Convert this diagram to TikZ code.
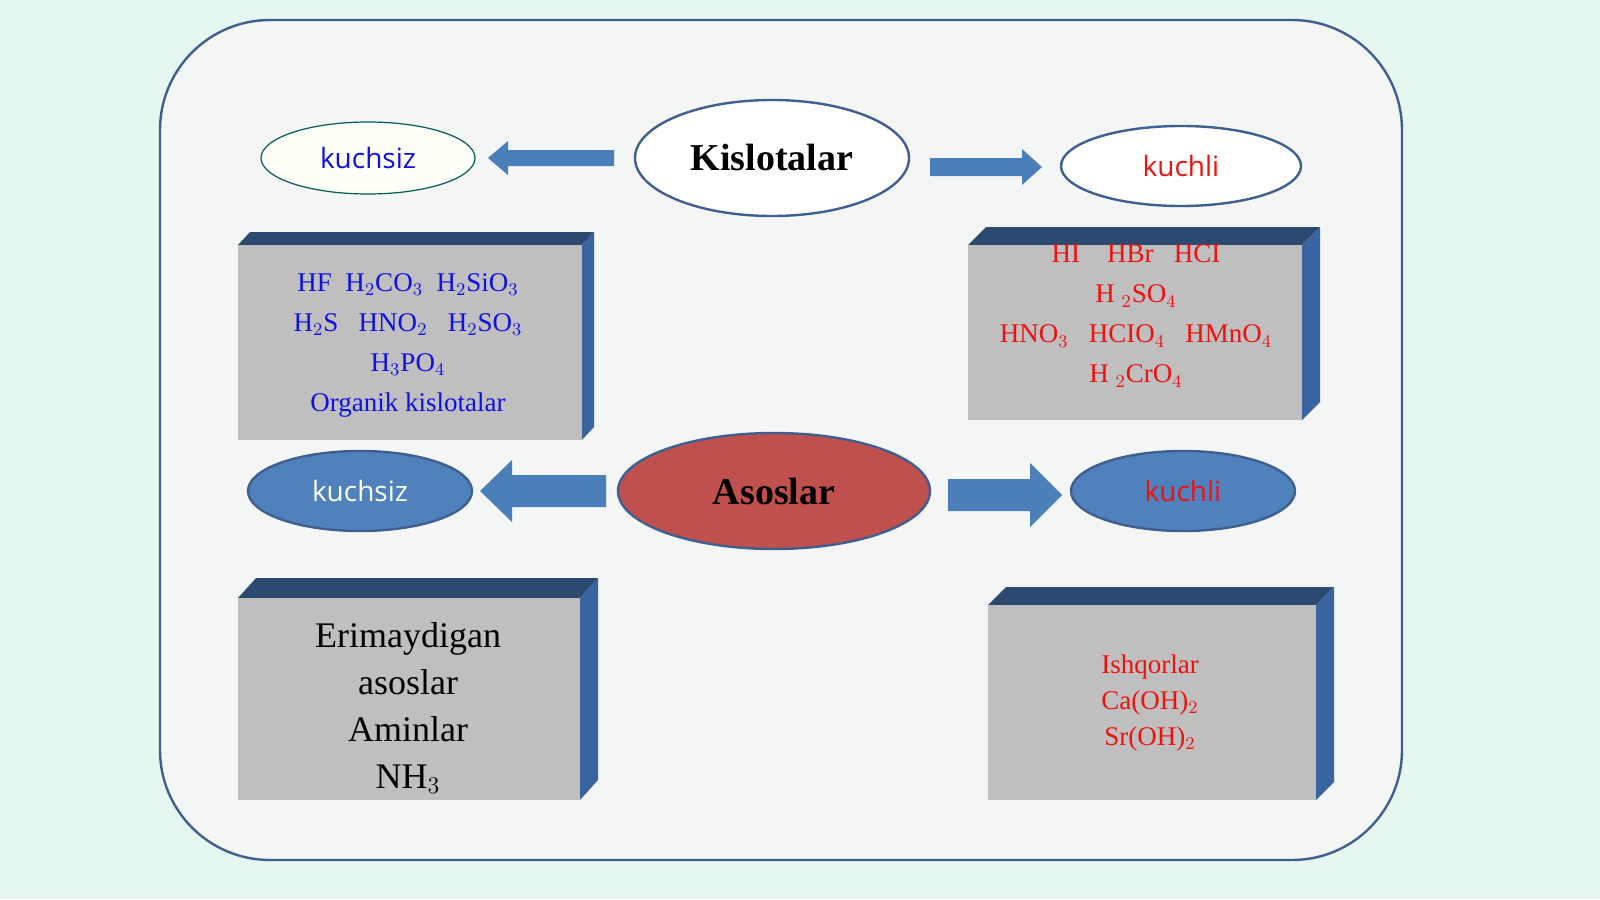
\documentclass[tikz,border=0pt]{standalone}
\usepackage{fontspec}
\setmainfont{Liberation Serif}
\newfontfamily\sansf{Open Sans}
\usetikzlibrary{shapes.geometric}
\definecolor{bgA}{HTML}{E6F6F0}
\definecolor{panel}{HTML}{F4F5F5}
\definecolor{frame}{HTML}{3F5F8F}
\definecolor{boxg}{HTML}{BFBFBF}
\definecolor{boxtop}{HTML}{2C4A70}
\definecolor{boxside}{HTML}{3A64A0}
\definecolor{arr}{HTML}{4A7FBA}
\definecolor{red1}{HTML}{C0504D}
\definecolor{blu1}{HTML}{4F81BD}
\definecolor{txtblue}{HTML}{1010E0}
\definecolor{txtred}{HTML}{F01010}
\begin{document}
\begin{tikzpicture}[x=0.5pt,y=-0.5pt,
 ell/.style={ellipse,draw=frame,line width=1.2pt,inner sep=0,minimum width=#1},
 ar/.style={fill=arr,draw=none},
 box/.style={fill=boxg}]
\useasboundingbox (0,0) rectangle (1600,899);
\fill[bgA] (0,0) rectangle (1600,899);
\draw[frame,fill=panel,line width=1.2pt,rounded corners=55pt] (160,20) rectangle (1402,860);
% top row
\node[ell=137pt,minimum height=58pt,fill=white,font=\bfseries\fontsize{19}{22}\selectfont] (kis) at (772,158) {Kislotalar};
\node[ell=107pt,minimum height=36pt,fill=panel!60!yellow!8,draw=teal!70!black,line width=0.6pt,text=txtblue,font=\sansf\fontsize{14}{16}\selectfont] (ks1) at (368,158) {kuchsiz};
\node[ell=120pt,minimum height=40pt,fill=white,text=txtred,font=\sansf\fontsize{14}{16}\selectfont] (kc1) at (1181,166) {kuchli};
\fill[ar] (614,150)--(508,150)--(508,141)--(488,158)--(508,175)--(508,166)--(614,166)--cycle;
\fill[ar] (930,158)--(1022,158)--(1022,149)--(1042,167)--(1022,185)--(1022,176)--(930,176)--cycle;
% boxes
\newcommand{\cube}[6]{% x1 y1 x2 y2 top side
 \fill[boxtop] (#1,#2)--(#1+#6,#5)--(#3+#6,#5)--(#3,#2)--cycle;
 \fill[boxside] (#3,#2)--(#3+#6,#5)--(#3+#6,#4-#2+#5)--(#3,#4)--cycle;
 \fill[boxg] (#1,#2) rectangle (#3,#4);}
\cube{238}{245}{582}{440}{232}{12}
\cube{968}{245}{1302}{420}{227}{18}
\cube{238}{598}{580}{800}{578}{18}
\cube{988}{605}{1316}{800}{587}{18}
\node[text=txtblue,font=\fontsize{13.5}{20}\selectfont,align=center] (b1) at (408,345)
 {HF\ \ H$_2$CO$_3$\ \ H$_2$SiO$_3$\\ H$_2$S\ \ \ HNO$_2$\ \ \ H$_2$SO$_3$\\ H$_3$PO$_4$\\ Organik kislotalar};
\node[text=txtred,font=\fontsize{13.5}{20}\selectfont,align=center] (b2) at (1136,316)
 {HI\ \ \ \ HBr\ \ \ HCI\\ H $_2$SO$_4$\\ HNO$_3$\ \ \ HCIO$_4$\ \ \ HMnO$_4$\\ H $_2$CrO$_4$};
\node[font=\fontsize{18}{23.5}\selectfont,align=center] (b3) at (408,708)
 {Erimaydigan\\ asoslar\\ Aminlar\\ NH$_3$};
\node[text=txtred,font=\fontsize{13.5}{18}\selectfont,align=center] (b4) at (1150,703)
 {Ishqorlar\\ Ca(OH)$_2$\\ Sr(OH)$_2$};
% bottom row
\node[ell=156pt,minimum height=58pt,fill=red1,draw=frame,font=\bfseries\fontsize{19}{22}\selectfont] (aso) at (774,491) {Asoslar};
\node[ell=112pt,minimum height=40pt,fill=blu1,text=white,font=\sansf\fontsize{14}{16}\selectfont] (ks2) at (360,491) {kuchsiz};
\node[ell=112pt,minimum height=40pt,fill=blu1,text=txtred,font=\sansf\fontsize{14}{16}\selectfont] (kc2) at (1183,491) {kuchli};
\fill[ar] (606,475)--(512,475)--(512,460)--(480,491)--(512,522)--(512,507)--(606,507)--cycle;
\fill[ar] (948,479)--(1030,479)--(1030,463)--(1062,495)--(1030,527)--(1030,511)--(948,511)--cycle;
\end{tikzpicture}
\end{document}
